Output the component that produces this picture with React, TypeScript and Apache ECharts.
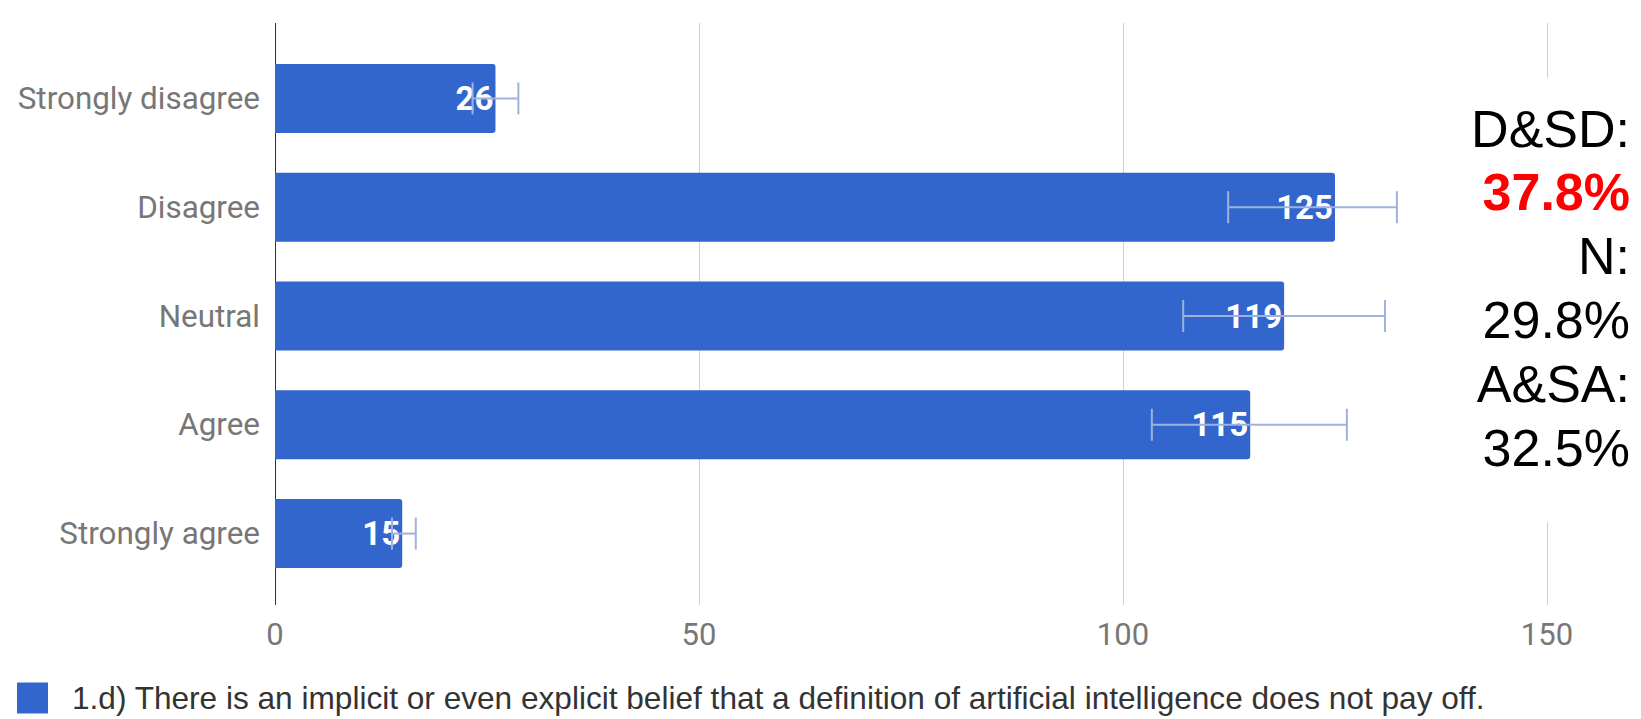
import React, { useEffect, useRef } from "react";
import * as echarts from "echarts";

const categories = ["Strongly disagree", "Disagree", "Neutral", "Agree", "Strongly agree"];
const values = [26, 125, 119, 115, 15];
const errLow = [23.3, 112.4, 107.1, 103.4, 13.8];
const errHigh = [28.7, 132.3, 130.9, 126.4, 16.6];
const xTicks = [0, 50, 100, 150];
const seriesName =
  "1.d) There is an implicit or even explicit belief that a definition of artificial intelligence does not pay off.";
const sideLines = ["D&SD:", "37.8%", "N:", "29.8%", "A&SA:", "32.5%"];
const sideHighlight = [false, true, false, false, false, false];

export default function App() {
  const ref = useRef<HTMLDivElement>(null);
  useEffect(() => {
    document.body.style.margin = "0";
    const chart = echarts.init(ref.current!, undefined, { renderer: "svg" });
    const gridL = 275;
    const gridW = 1272;
    const option: any = {
      animation: false,
      backgroundColor: "#ffffff",
      grid: [
        { left: gridL, width: gridW, top: 44, height: 544 },
        { left: gridL, width: gridW, top: 23, height: 582 },
      ],
      xAxis: [
        {
          gridIndex: 0,
          type: "value",
          min: xTicks[0],
          max: xTicks[xTicks.length - 1],
          interval: 50,
          show: false,
        },
        {
          gridIndex: 1,
          type: "value",
          min: xTicks[0],
          max: xTicks[xTicks.length - 1],
          interval: 50,
          axisLine: { show: false },
          axisTick: { show: false },
          splitLine: {
            show: true,
            lineStyle: { color: ["#333333", "#d0d0d0", "#d0d0d0", "#d0d0d0"], width: [2, 1, 1, 1] },
          },
          axisLabel: {
            color: "#777777",
            fontFamily: "Roboto",
            fontSize: 31,
            margin: 14,
          },
        },
      ],
      yAxis: [
        {
          gridIndex: 0,
          type: "category",
          data: categories,
          inverse: true,
          axisLine: { show: false },
          axisTick: { show: false },
          axisLabel: {
            color: "#777777",
            fontFamily: "Roboto",
            fontSize: 31.4,
            margin: 15,
          },
        },
        {
          gridIndex: 1,
          type: "value",
          show: false,
        },
      ],
      legend: {
        left: 17,
        top: 682,
        padding: 0,
        itemWidth: 31,
        itemHeight: 31,
        icon: "rect",
        data: [seriesName],
        textStyle: {
          fontFamily: "Liberation Sans, Arial",
          fontSize: 31.6,
          color: "#333333",
          padding: [0, 0, 0, 19],
        },
      },
      series: [
        {
          name: seriesName,
          type: "bar",
          xAxisIndex: 0,
          yAxisIndex: 0,
          data: values,
          barWidth: 69,
          itemStyle: { color: "#3366cc", borderRadius: [0, 3, 3, 0] },
          label: {
            show: true,
            position: "insideRight",
            distance: 2,
            color: "#ffffff",
            fontFamily: "Roboto",
            fontWeight: "bold",
            fontSize: 33,
          },
          z: 2,
        },
        {
          type: "custom",
          xAxisIndex: 0,
          yAxisIndex: 0,
          data: categories.map((_, i) => [errLow[i], errHigh[i], i]),
          z: 5,
          silent: true,
          renderItem: (params: any, api: any) => {
            const lo = api.coord([api.value(0), api.value(2)]);
            const hi = api.coord([api.value(1), api.value(2)]);
            const h = 16;
            const style = { stroke: "#9fb2dd", lineWidth: 2 };
            return {
              type: "group",
              children: [
                { type: "line", shape: { x1: lo[0], y1: lo[1], x2: hi[0], y2: hi[1] }, style },
                { type: "line", shape: { x1: lo[0], y1: lo[1] - h, x2: lo[0], y2: lo[1] + h }, style },
                { type: "line", shape: { x1: hi[0], y1: hi[1] - h, x2: hi[0], y2: hi[1] + h }, style },
              ],
            };
          },
        },
      ],
      graphic: [
        {
          type: "rect",
          z: 50,
          shape: { x: 1440, y: 78, width: 201, height: 444 },
          style: { fill: "#ffffff" },
        },
        ...sideLines.map((t, i) => ({
          type: "text",
          z: 60,
          x: 1630,
          y: 128.5 + i * 63.8,
          style: {
            text: t,
            align: "right",
            verticalAlign: "middle",
            fontFamily: "Liberation Sans, Arial",
            fontSize: 52,
            fontWeight: sideHighlight[i] ? "bold" : "normal",
            fill: sideHighlight[i] ? "#ff0000" : "#000000",
          },
        })),
      ],
    };
    chart.setOption(option);
    return () => chart.dispose();
  }, []);
  return (
    <div
      ref={ref}
      style={{ position: "absolute", left: 0, top: 0, width: 1641, height: 719 }}
    />
  );
}
